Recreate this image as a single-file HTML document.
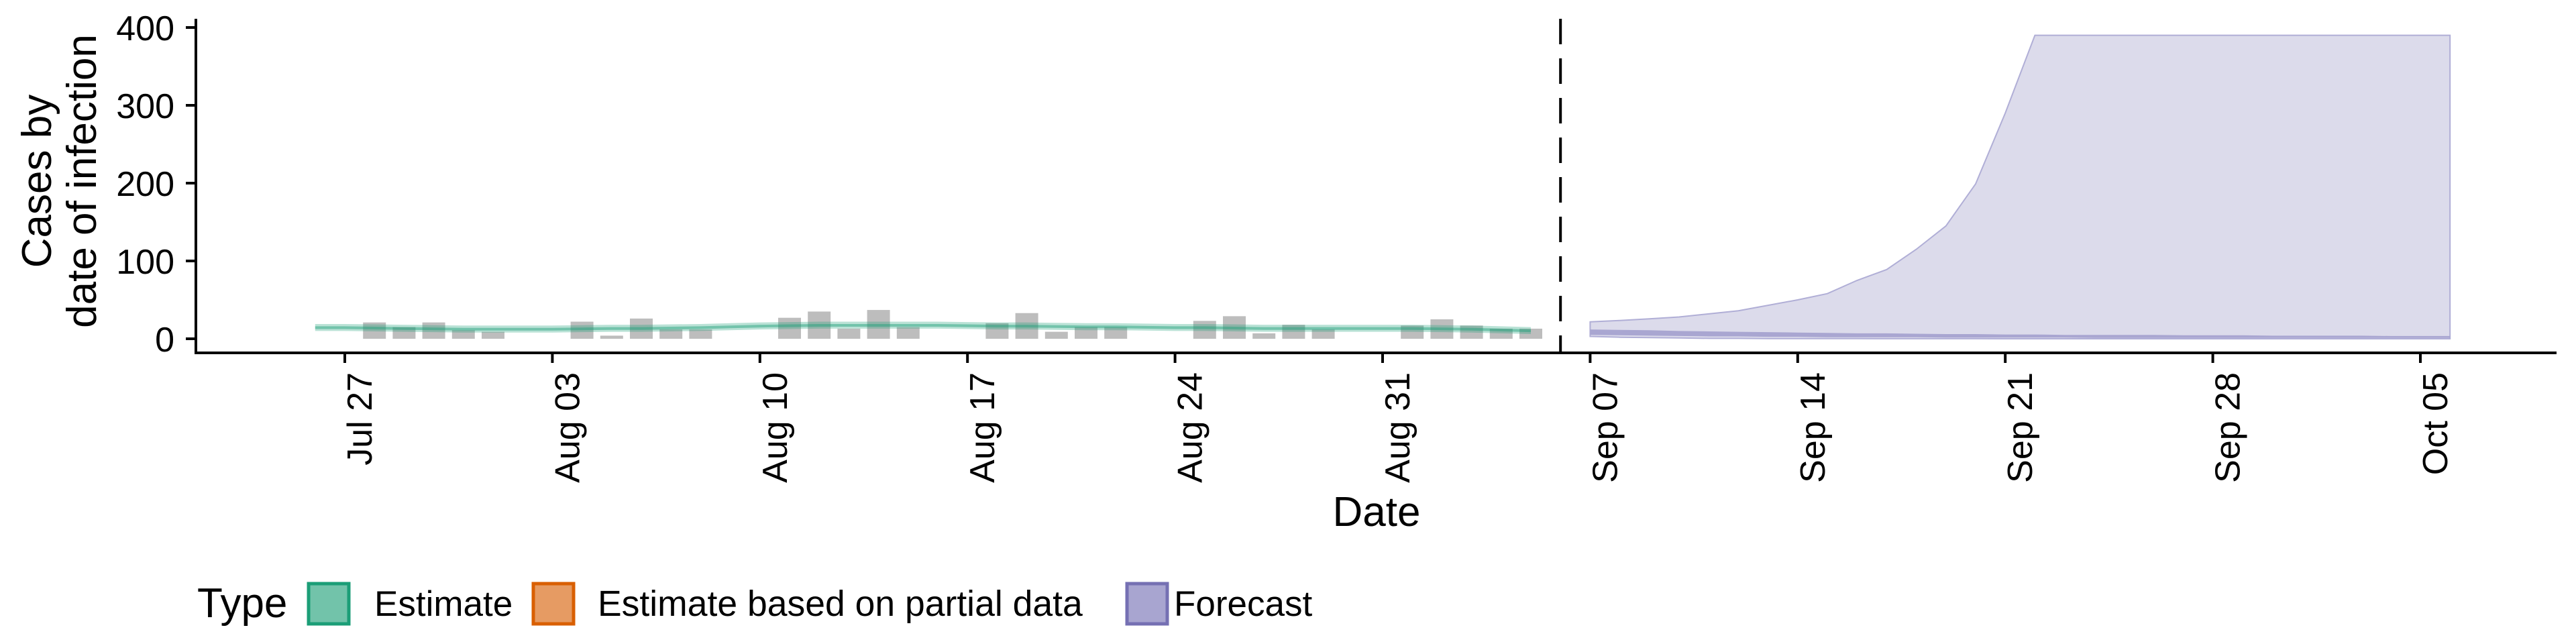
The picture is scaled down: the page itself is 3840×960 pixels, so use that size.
<!DOCTYPE html>
<html><head><meta charset="utf-8"><style>
html,body{margin:0;padding:0;background:#fff;}
svg{display:block;font-family:"Liberation Sans",Arial,sans-serif;}
</style></head><body>
<svg id="chart" width="3840" height="960" viewBox="0 0 3840 960" xmlns="http://www.w3.org/2000/svg">
<g id="marks"></g>
<g id="axes"></g>
<text transform="translate(76,270) rotate(-90)" text-anchor="middle" font-size="62">Cases by</text>
<text transform="translate(143,270) rotate(-90)" text-anchor="middle" font-size="62">date of infection</text>
<text x="2052" y="784" text-anchor="middle" font-size="62">Date</text>
<g>
<text x="294" y="920" font-size="62">Type</text>
<rect x="460" y="870" width="60" height="60" fill="#72c3aa" stroke="#1b9e77" stroke-width="5"/>
<text x="558" y="918" font-size="53">Estimate</text>
<rect x="795" y="870" width="60" height="60" fill="#e69b63" stroke="#d95f02" stroke-width="5"/>
<text x="891" y="918" font-size="53.5">Estimate based on partial data</text>
<rect x="1680" y="870" width="60" height="60" fill="#a8a5d0" stroke="#7570b3" stroke-width="5"/>
<text x="1750" y="918" font-size="53">Forecast</text>
</g>
</svg>
<script>
// day 0 = Jul 27
const caseDays = [1,2,3,4,5, 8,9,10,11,12, 15,16,17,18,19, 22,23,24,25,26, 29,30,31,32,33, 36,37,38,39,40];
const caseValues = [21,15,21,11,9, 22,4,26,12,12, 27,35,13,37,15, 20,33,9,15,15, 23,29,7,18,12, 17,25,17,13,13];
const estStartDay = -1;
const estMedian = [14,14,13.5,13,12.5,12,12,12,12,12.5,13,13,13.5,14,15,16,16.5,17,17,17,17,17,16.5,16,16,15.5,15,15,14.5,14,14,13.5,13,13,13,13,13,13,12.5,12,11,10];
const estHi90 = [19,19,18.5,18,17.5,17,17,17,17,17.5,18,18,18.5,19,20,21,21.5,22,22,22,22,22,21.5,21,21,20.5,20,20,19.5,19,19,18.5,18,18,18,18,18,18,17.5,17,16,15];
const estLo90 = [10,10,9.5,9,8.5,8,8,8,8,8.5,9,9,9.5,10,11,12,12.5,13,13,13,13,13,12.5,12,12,11.5,11,11,10.5,10,10,9.5,9,9,9,9,9,9,8.5,8,7,6];
const estHi50 = [16,16,15.5,15,14.5,14,14,14,14,14.5,15,15,15.5,16,17,18,18.5,19,19,19,19,19,18.5,18,18,17.5,17,17,16.5,16,16,15.5,15,15,15,15,15,15,14.5,14,13,12];
const estLo50 = [12.5,12.5,12,11.5,11,10.5,10.5,10.5,10.5,11,11.5,11.5,12,12.5,13.5,14.5,15,15.5,15.5,15.5,15.5,15.5,15,14.5,14.5,14,13.5,13.5,13,12.5,12.5,12,11.5,11.5,11.5,11.5,11.5,11.5,11,10.5,9.5,8.5];
const fcStartDay = 42;
const fcHi90 = [21.7,23.5,25.7,28,32,36,43,50,58,75,89,115,145,199,290,390,390,390,390,390,390,390,390,390,390,390,390,390,390,390];
const fcHi50 = [12,11.5,11,10,9.5,9,8.5,8,7.5,7,7,6.5,6,6,5.5,5.5,5,5,5,5,4.5,4.5,4.5,4,4,4,4,3.5,3.5,3.5];
const fcLo50 = [5,4.5,4,3.5,3,3,2.5,2.5,2,2,2,2,1.5,1.5,1.5,1.5,1.5,1,1,1,1,1,1,1,1,1,1,1,1,1];
const fcLo90 = [3,2,1.5,1,0.5,0.5,0.3,0.3,0.2,0.2,0.1,0.1,0.1,0.1,0,0,0,0,0,0,0,0,0,0,0,0,0,0,0,0];
const yTicks = [0,100,200,300,400];
const xTickDays = [0,7,14,21,28,35,42,49,56,63,70];
const xTickLabels = ["Jul 27","Aug 03","Aug 10","Aug 17","Aug 24","Aug 31","Sep 07","Sep 14","Sep 21","Sep 28","Oct 05"];
const forecastDateDay = 41;

const NS = "http://www.w3.org/2000/svg";
const X0 = 514, DAY = 44.2, Y0 = 505, UNIT = 1.16;
function xs(d){return X0 + d*DAY;}
function ys(v){return Y0 - v*UNIT;}
function mk(tag, attrs, parent){const e=document.createElementNS(NS,tag);for(const k in attrs)e.setAttribute(k,attrs[k]);parent.appendChild(e);return e;}
const marks=document.getElementById('marks'), axes=document.getElementById('axes');

function ribbon(start, lo, hi, fill, name, stroke){
  let pts=[];
  for(let i=0;i<hi.length;i++)pts.push(xs(start+i).toFixed(1)+','+ys(hi[i]).toFixed(1));
  for(let i=lo.length-1;i>=0;i--)pts.push(xs(start+i).toFixed(1)+','+ys(lo[i]).toFixed(1));
  const p=mk('polygon',{points:pts.join(' '),fill:fill,stroke:stroke||'none','stroke-width':2},marks);
  
  
}
caseDays.forEach((d,i)=>{
  const r=mk('rect',{x:xs(d)-17,y:ys(caseValues[i]),width:34,height:ys(0)-ys(caseValues[i]),fill:'#bdbdbd'},marks);
  
  
});
ribbon(estStartDay, estLo90, estHi90, 'rgba(27,158,119,0.3)', 'estimate-90-ribbon');
ribbon(estStartDay, estLo50, estHi50, 'rgba(27,158,119,0.45)', 'estimate-50-ribbon');
ribbon(fcStartDay, fcLo90, fcHi90, '#dcdbeb', 'forecast-90-ribbon', '#b0aed6');
ribbon(fcStartDay, fcLo50, fcHi50, '#a9a6d1', 'forecast-50-ribbon');
const dl=mk('line',{x1:xs(forecastDateDay),x2:xs(forecastDateDay),y1:28,y2:526,stroke:'#000','stroke-width':4,'stroke-dasharray':'38,21'},marks);


const ya=mk('line',{x1:292,x2:292,y1:28,y2:528,stroke:'#000','stroke-width':4},axes);


const xa=mk('line',{x1:290,x2:3811,y1:526,y2:526,stroke:'#000','stroke-width':4},axes);


yTicks.forEach(v=>{
  const t=mk('line',{x1:277,x2:292,y1:ys(v),y2:ys(v),stroke:'#000','stroke-width':4},axes);
  
  
  const l=mk('text',{x:260,y:ys(v)+19,'text-anchor':'end','font-size':52},axes);
  l.textContent=v;
  
  
});
xTickDays.forEach((d,i)=>{
  const t=mk('line',{x1:xs(d),x2:xs(d),y1:526,y2:541,stroke:'#000','stroke-width':4},axes);
  
  
  const l=mk('text',{transform:'translate('+(xs(d)+40)+',555) rotate(-90)','text-anchor':'end','font-size':52},axes);
  l.textContent=xTickLabels[i];
  
  
});
</script>
</body></html>
